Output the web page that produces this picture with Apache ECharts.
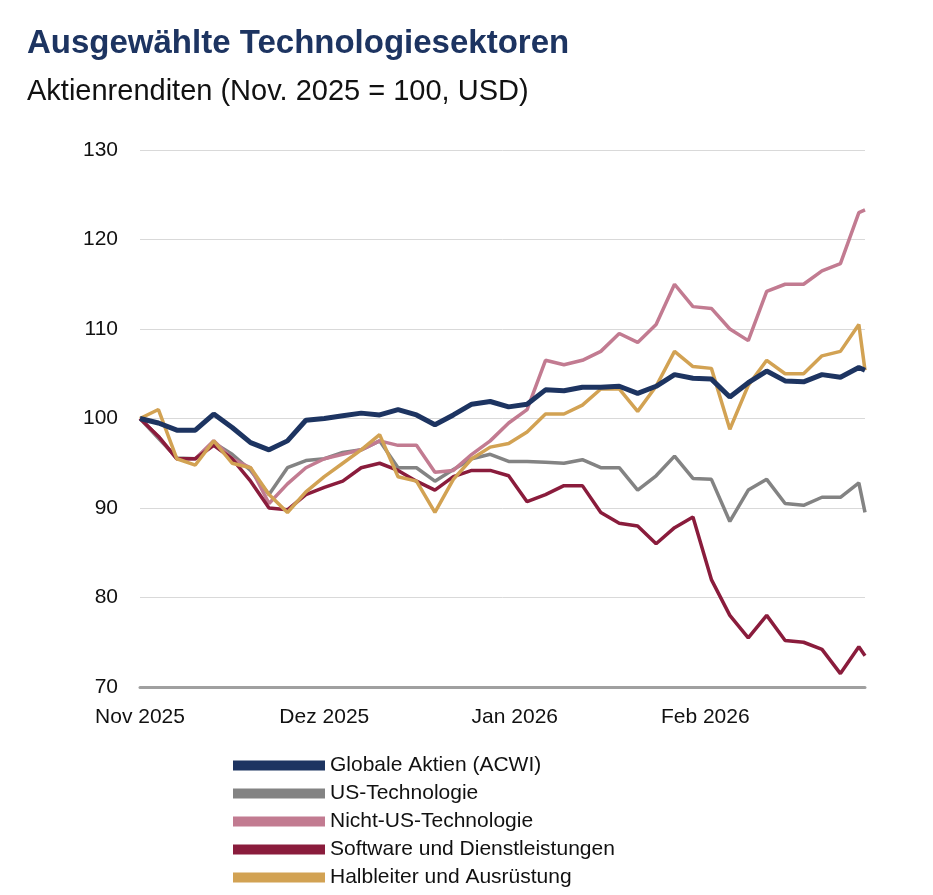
<!DOCTYPE html>
<html>
<head>
<meta charset="utf-8">
<script src="https://cdn.jsdelivr.net/npm/echarts@6/dist/echarts.min.js"></script>
<style>
  body { margin: 0; background: #fff; }
  #chart { width: 933px; height: 895px; }
</style>
</head>
<body>
<div id="chart"></div>
<script>
// Tage seit 1. Nov 2025 (alle 3 Tage)
var days = [0,3,6,9,12,15,18,21,24,27,30,33,36,39,42,45,48,51,54,57,60,63,66,69,72,75,78,81,84,87,90,93,96,99,102,105,108,111,114,117,118];

var acwi = [100,99.5,98.7,98.7,100.5,99.0,97.3,96.5,97.5,99.8,100.0,100.3,100.6,100.4,101.0,100.4,99.3,100.4,101.6,101.9,101.3,101.6,103.2,103.1,103.5,103.5,103.6,102.8,103.6,104.9,104.5,104.4,102.4,104.0,105.3,104.2,104.1,104.9,104.6,105.7,105.4];
var usTech = [100,97.8,95.6,95.5,97.3,96.0,94.2,91.5,94.5,95.3,95.5,96.2,96.5,97.5,94.5,94.5,93.0,94.3,95.5,96.0,95.2,95.2,95.1,95.0,95.4,94.5,94.5,92.0,93.6,95.8,93.3,93.2,88.5,92.0,93.2,90.5,90.3,91.2,91.2,92.8,89.5];
var nonUsTech = [100,98,95.5,95.5,97.5,95.5,94.5,90.5,92.7,94.5,95.5,96,96.5,97.5,97,97,94,94.2,96,97.5,99.5,101,106.5,106,106.5,107.5,109.5,108.5,110.5,115,112.5,112.3,110,108.7,114.2,115,115,116.5,117.3,123,123.3];
var software = [100,98,95.5,95.5,97,95.5,93,90,89.8,91.5,92.3,93,94.5,95,94.2,93,92,93.5,94.2,94.2,93.6,90.7,91.5,92.5,92.5,89.5,88.3,88,86,87.8,89,82,78,75.5,78,75.2,75,74.2,71.5,74.5,73.5];
var semis = [100,101,95.5,94.8,97.5,95,94.5,91.5,89.5,91.8,93.5,95,96.5,98.2,93.5,93,89.5,93.2,95.5,96.8,97.2,98.5,100.5,100.5,101.5,103.3,103.3,100.8,103.6,107.5,105.8,105.6,98.8,103.7,106.5,105,105,107,107.5,110.5,105.4];

var seriesNames = ['Globale Aktien (ACWI)', 'US-Technologie', 'Nicht-US-Technologie', 'Software und Dienstleistungen', 'Halbleiter und Ausrüstung'];
var seriesColors = ['#1d3461', '#838383', '#c27b91', '#8a1c3c', '#d2a253'];
var seriesWidths = [5, 3.5, 3.5, 3.5, 3.5];
var monthLabels = ['Nov 2025', 'Dez 2025', 'Jan 2026', 'Feb 2026'];
var monthDays = [0, 30, 61, 92];

var allData = [acwi, usTech, nonUsTech, software, semis];
var series = [];
// Zeichenreihenfolge: ACWI oben
[1, 2, 3, 4, 0].forEach(function (i) {
  series.push({
    name: seriesNames[i],
    type: 'line',
    showSymbol: false,
    z: i === 0 ? 5 : 2,
    lineStyle: { width: seriesWidths[i], color: seriesColors[i] },
    itemStyle: { color: seriesColors[i] },
    data: days.map(function (d, k) { return [d, allData[i][k]]; })
  });
});

var myChart = echarts.init(document.getElementById('chart'));
var option = {
  animation: false,
  backgroundColor: '#fff',
  title: [
    { text: 'Ausgewählte Technologiesektoren', left: 22, top: 22,
      textStyle: { fontSize: 33, fontWeight: 'bold', color: '#1d3461', fontFamily: 'Liberation Sans' } },
    { text: 'Aktienrenditen (Nov. 2025 = 100, USD)', left: 22, top: 72,
      textStyle: { fontSize: 29, fontWeight: 'normal', color: '#111', fontFamily: 'Liberation Sans' } }
  ],
  legend: {
    orient: 'vertical',
    left: 228,
    top: 750,
    itemWidth: 92,
    itemHeight: 10,
    itemGap: 7,
    data: seriesNames,
    icon: 'rect',
    textStyle: { fontSize: 21, color: '#111', fontFamily: 'Liberation Sans' }
  },
  grid: { left: 140, right: 68, top: 150, bottom: 208 },
  xAxis: {
    type: 'value',
    min: 0,
    max: 118,
    interval: 1,
    axisLine: { show: true, onZero: false, lineStyle: { color: '#a0a0a0', width: 3 } },
    axisTick: { show: false },
    splitLine: { show: false },
    axisLabel: {
      margin: 20,
      fontSize: 21,
      color: '#111',
      fontFamily: 'Liberation Sans',
      showMinLabel: true,
      formatter: function (v) {
        var idx = monthDays.indexOf(Math.round(v));
        return idx >= 0 ? monthLabels[idx] : '';
      }
    }
  },
  yAxis: {
    type: 'value',
    min: 70,
    max: 130,
    interval: 10,
    axisLine: { show: false },
    axisTick: { show: false },
    axisLabel: { fontSize: 21, color: '#111', margin: 22, fontFamily: 'Liberation Sans' },
    splitLine: { lineStyle: { color: '#d9d9d9', width: 1 } }
  },
  series: series
};
myChart.setOption(option);
</script>
</body>
</html>
